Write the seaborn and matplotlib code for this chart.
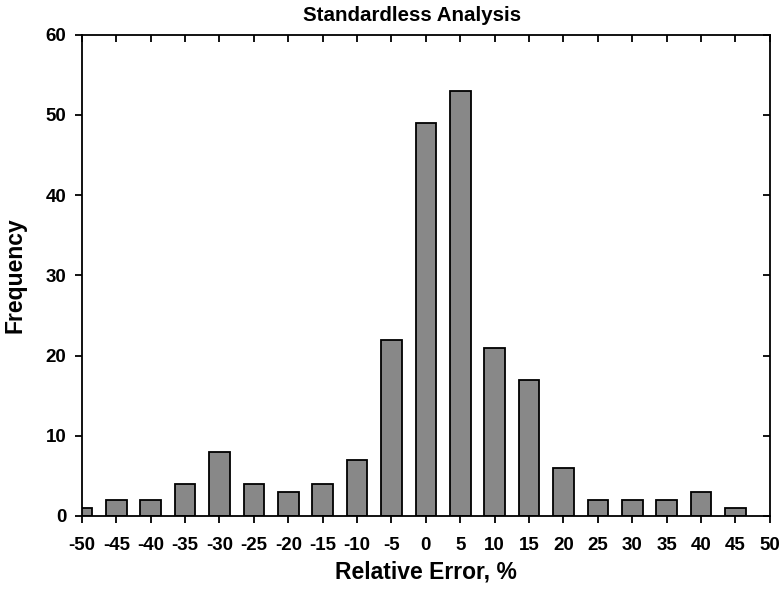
import pandas as pd
import seaborn as sns
import matplotlib.pyplot as plt

# relative error bins (bar centres) and their frequencies
error_bins = [-50, -45, -40, -35, -30, -25, -20, -15, -10, -5,
              0, 5, 10, 15, 20, 25, 30, 35, 40, 45]
frequency = [1, 2, 2, 4, 8, 4, 3, 4, 7, 22,
             49, 53, 21, 17, 6, 2, 2, 2, 3, 1]

x_ticks = list(range(-50, 55, 5))
y_ticks = list(range(0, 70, 10))

df = pd.DataFrame({"error": error_bins, "freq": frequency})

sns.set_style("ticks")
plt.rcParams["font.family"] = ["Liberation Sans", "DejaVu Sans"]
plt.rcParams["font.weight"] = "bold"
plt.rcParams["text.color"] = "black"
plt.rcParams["axes.labelcolor"] = "black"
plt.rcParams["xtick.color"] = "black"
plt.rcParams["ytick.color"] = "black"

fig = plt.figure(figsize=(7.8, 5.89), dpi=100)
ax = fig.add_axes([0.105, 0.124, 0.882, 0.817])

# draw the bars at their numeric positions
sns.barplot(
    data=df,
    x="error",
    y="freq",
    native_scale=True,
    width=0.6,
    color="#888888",
    saturation=1,
    edgecolor="black",
    linewidth=1.3,
    ax=ax,
)

ax.set_xlim(-50, 50)
ax.set_ylim(0, 60)
ax.set_xticks(x_ticks)
ax.set_yticks(y_ticks)
ax.set_xticklabels([str(t) for t in x_ticks], fontsize=13.5, fontweight="bold")
ax.set_yticklabels([str(t) for t in y_ticks], fontsize=13.5, fontweight="bold")

# outward ticks on bottom/left, inward on top/right
ax.tick_params(axis="x", which="major", direction="out", length=5, width=1.3, pad=10)
ax.tick_params(axis="y", which="major", direction="out", length=5, width=1.3, pad=6)
ax.tick_params(top=True, right=True)
for t in ax.xaxis.get_major_ticks():
    t.tick2line.set_marker(3)
    t.tick2line.set_markersize(5)
for t in ax.yaxis.get_major_ticks():
    t.tick2line.set_marker(0)
    t.tick2line.set_markersize(5)

for s in ax.spines.values():
    s.set_linewidth(1.3)
    s.set_color("black")

ax.set_xlabel("Relative Error, %", fontsize=16.5, fontweight="bold", labelpad=5)
ax.set_ylabel("Frequency", fontsize=16.5, fontweight="bold", labelpad=14)
ax.set_title("Standardless Analysis", fontsize=14.8, fontweight="bold", pad=10, x=0.48)

plt.savefig("out.png", dpi=100)
